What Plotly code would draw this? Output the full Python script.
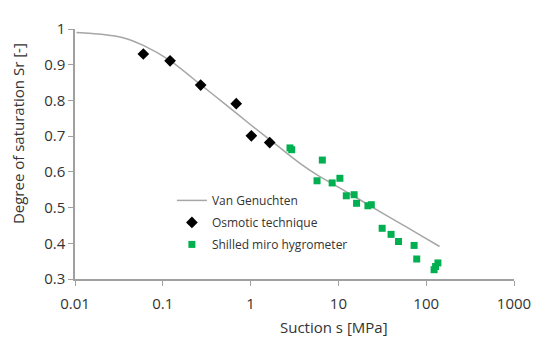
import plotly.graph_objects as go

# Van Genuchten fitted curve
vg_s = [0.0104, 0.02, 0.036, 0.06, 0.12, 0.27, 0.5, 1.0, 2.0, 3.65, 5.6, 10, 17, 30, 45, 80, 142]
vg_sr = [0.990, 0.985, 0.975, 0.954, 0.912, 0.844, 0.792, 0.732, 0.674, 0.624, 0.593, 0.557, 0.524, 0.488, 0.463, 0.427, 0.391]

# Osmotic technique
osm_s = [0.06, 0.121, 0.27, 0.686, 1.02, 1.65]
osm_sr = [0.930, 0.911, 0.843, 0.791, 0.701, 0.682]

# Shilled miro hygrometer
hyg_s = [2.81, 2.94, 6.56, 5.71, 8.49, 10.4, 12.3, 15.1, 16.1, 21.7, 23.7, 31.5, 39.8, 48.4, 72.8, 78, 123, 128, 136]
hyg_sr = [0.667, 0.662, 0.633, 0.575, 0.569, 0.582, 0.533, 0.536, 0.512, 0.505, 0.508,
          0.442, 0.425, 0.405, 0.394, 0.356, 0.326, 0.335, 0.345]

x_ticks = [0.01, 0.1, 1, 10, 100, 1000]
x_labels = ["0.01", "0.1", "1", "10", "100", "1000"]
y_ticks = [0.3, 0.4, 0.5, 0.6, 0.7, 0.8, 0.9, 1.0]
y_labels = ["0.3", "0.4", "0.5", "0.6", "0.7", "0.8", "0.9", "1"]

FONT = "Open Sans"
fig = go.Figure()
fig.add_trace(go.Scatter(x=vg_s, y=vg_sr, mode="lines", name="Van Genuchten", legendgroup="a",
                         line=dict(color="#a6a6a6", width=1.5, shape="spline", smoothing=0.8)))
fig.add_trace(go.Scatter(x=osm_s, y=osm_sr, mode="markers", name="Osmotic technique", legendgroup="b",
                         marker=dict(symbol="diamond", color="black", size=9)))
fig.add_trace(go.Scatter(x=hyg_s, y=hyg_sr, mode="markers", name="Shilled miro hygrometer", legendgroup="c",
                         marker=dict(symbol="square", color="#00b050", size=7)))

axis_common = dict(showgrid=False, zeroline=False, showline=True, linecolor="#a0a0a0",
                   linewidth=1.5, ticks="outside", tickcolor="#a0a0a0", ticklen=5,
                   ticklabeloverflow="allow",
                   tickfont=dict(family=FONT, size=15, color="#333333"))
fig.update_xaxes(type="log", range=[-2, 3], tickvals=x_ticks, ticktext=x_labels,
                 ticklabelstandoff=5, **axis_common)
fig.update_yaxes(range=[0.3, 1.0], tickvals=y_ticks, ticktext=y_labels, **axis_common)

fig.add_annotation(text="Suction s [MPa]", xref="paper", yref="paper", x=(337 - 75) / 444,
                   y=0, yshift=-48, showarrow=False, yanchor="middle",
                   font=dict(family=FONT, size=15, color="#333333"))
fig.add_annotation(text="Degree of saturation Sr [-]", xref="paper", yref="paper", x=0,
                   xshift=-57, y=(279 - 128) / 260.5, showarrow=False, textangle=-90,
                   xanchor="center", yanchor="middle",
                   font=dict(family=FONT, size=15, color="#333333"))

# page body has an 8px margin, so the figure is shrunk/offset to keep the plot area in place
fig.update_layout(
    width=533, height=330,
    margin=dict(l=67, r=22, t=10, b=59),
    paper_bgcolor="white", plot_bgcolor="white",
    showlegend=True,
    legend=dict(x=(173 - 75) / 444, y=(279 - 182) / 260.5, xanchor="left", yanchor="top",
                bgcolor="rgba(0,0,0,0)", font=dict(family=FONT, size=12, color="#333333"),
                itemwidth=30, tracegroupgap=3),
)

fig.write_html("out.html")
